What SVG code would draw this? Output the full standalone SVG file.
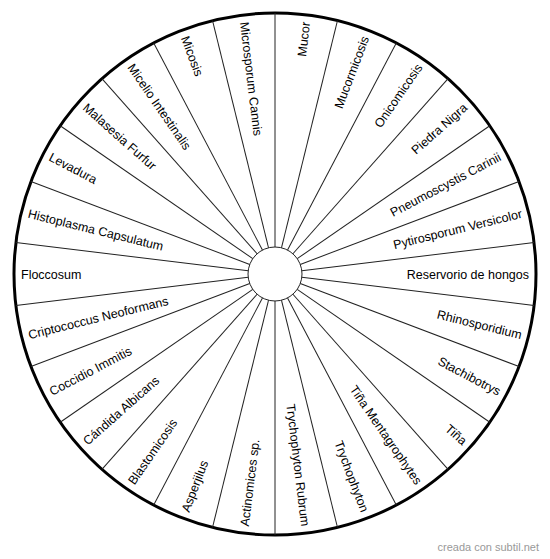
<svg xmlns="http://www.w3.org/2000/svg" width="550" height="559" viewBox="0 0 550 559">
<style>
.spoke{stroke:#222;stroke-width:1;fill:none}
.lbl{font-family:"Liberation Sans",Arial,sans-serif;font-size:12.5px;fill:#000}
.r{text-anchor:end}
.l{text-anchor:start}
.wm{font-family:"Liberation Sans",Arial,sans-serif;font-size:11px;fill:#999}
</style>
<rect width="550" height="559" fill="#fff"/>
<g id="wheel">
<circle cx="275" cy="274" r="261" fill="#fff" stroke="#000" stroke-width="3"/>
</g>
<g id="connectors">
<line class="spoke" x1="275" y1="247" x2="275" y2="13" transform="rotate(0 275 274)"/>
<line class="spoke" x1="275" y1="247" x2="275" y2="13" transform="rotate(13.846 275 274)"/>
<line class="spoke" x1="275" y1="247" x2="275" y2="13" transform="rotate(27.692 275 274)"/>
<line class="spoke" x1="275" y1="247" x2="275" y2="13" transform="rotate(41.538 275 274)"/>
<line class="spoke" x1="275" y1="247" x2="275" y2="13" transform="rotate(55.385 275 274)"/>
<line class="spoke" x1="275" y1="247" x2="275" y2="13" transform="rotate(69.231 275 274)"/>
<line class="spoke" x1="275" y1="247" x2="275" y2="13" transform="rotate(83.077 275 274)"/>
<line class="spoke" x1="275" y1="247" x2="275" y2="13" transform="rotate(96.923 275 274)"/>
<line class="spoke" x1="275" y1="247" x2="275" y2="13" transform="rotate(110.769 275 274)"/>
<line class="spoke" x1="275" y1="247" x2="275" y2="13" transform="rotate(124.615 275 274)"/>
<line class="spoke" x1="275" y1="247" x2="275" y2="13" transform="rotate(138.462 275 274)"/>
<line class="spoke" x1="275" y1="247" x2="275" y2="13" transform="rotate(152.308 275 274)"/>
<line class="spoke" x1="275" y1="247" x2="275" y2="13" transform="rotate(166.154 275 274)"/>
<line class="spoke" x1="275" y1="247" x2="275" y2="13" transform="rotate(180 275 274)"/>
<line class="spoke" x1="275" y1="247" x2="275" y2="13" transform="rotate(193.846 275 274)"/>
<line class="spoke" x1="275" y1="247" x2="275" y2="13" transform="rotate(207.692 275 274)"/>
<line class="spoke" x1="275" y1="247" x2="275" y2="13" transform="rotate(221.538 275 274)"/>
<line class="spoke" x1="275" y1="247" x2="275" y2="13" transform="rotate(235.385 275 274)"/>
<line class="spoke" x1="275" y1="247" x2="275" y2="13" transform="rotate(249.231 275 274)"/>
<line class="spoke" x1="275" y1="247" x2="275" y2="13" transform="rotate(263.077 275 274)"/>
<line class="spoke" x1="275" y1="247" x2="275" y2="13" transform="rotate(276.923 275 274)"/>
<line class="spoke" x1="275" y1="247" x2="275" y2="13" transform="rotate(290.769 275 274)"/>
<line class="spoke" x1="275" y1="247" x2="275" y2="13" transform="rotate(304.615 275 274)"/>
<line class="spoke" x1="275" y1="247" x2="275" y2="13" transform="rotate(318.462 275 274)"/>
<line class="spoke" x1="275" y1="247" x2="275" y2="13" transform="rotate(332.308 275 274)"/>
<line class="spoke" x1="275" y1="247" x2="275" y2="13" transform="rotate(346.154 275 274)"/>
</g>
<g id="hub">
<circle cx="275" cy="274" r="27" fill="#fff" stroke="#222" stroke-width="1"/>
</g>
<g id="n0"><text class="lbl r" x="529" y="274" dy="0.36em" transform="rotate(-83.077 275 274)">Mucor</text></g>
<g id="n1"><text class="lbl r" x="529" y="274" dy="0.36em" transform="rotate(-69.231 275 274)">Mucormicosis</text></g>
<g id="n2"><text class="lbl r" x="529" y="274" dy="0.36em" transform="rotate(-55.385 275 274)">Onicomicosis</text></g>
<g id="n3"><text class="lbl r" x="529" y="274" dy="0.36em" transform="rotate(-41.538 275 274)">Piedra Nigra</text></g>
<g id="n4"><text class="lbl r" x="529" y="274" dy="0.36em" transform="rotate(-27.692 275 274)">Pneumoscystis Carinii</text></g>
<g id="n5"><text class="lbl r" x="529" y="274" dy="0.36em" transform="rotate(-13.846 275 274)">Pytirosporum Versicolor</text></g>
<g id="n6"><text class="lbl r" x="529" y="274" dy="0.36em">Reservorio de hongos</text></g>
<g id="n7"><text class="lbl r" x="529" y="274" dy="0.36em" transform="rotate(13.846 275 274)">Rhinosporidium</text></g>
<g id="n8"><text class="lbl r" x="529" y="274" dy="0.36em" transform="rotate(27.692 275 274)">Stachibotrys</text></g>
<g id="n9"><text class="lbl r" x="529" y="274" dy="0.36em" transform="rotate(41.538 275 274)">Tiña</text></g>
<g id="n10"><text class="lbl r" x="529" y="274" dy="0.36em" transform="rotate(55.385 275 274)">Tiña Mentagrophytes</text></g>
<g id="n11"><text class="lbl r" x="529" y="274" dy="0.36em" transform="rotate(69.231 275 274)">Trychophyton</text></g>
<g id="n12"><text class="lbl r" x="529" y="274" dy="0.36em" transform="rotate(83.077 275 274)">Trychophyton Rubrum</text></g>
<g id="n13"><text class="lbl l" x="21" y="274" dy="0.36em" transform="rotate(-83.077 275 274)">Actinomices sp.</text></g>
<g id="n14"><text class="lbl l" x="21" y="274" dy="0.36em" transform="rotate(-69.231 275 274)">Asperjilus</text></g>
<g id="n15"><text class="lbl l" x="21" y="274" dy="0.36em" transform="rotate(-55.385 275 274)">Blastomicosis</text></g>
<g id="n16"><text class="lbl l" x="21" y="274" dy="0.36em" transform="rotate(-41.538 275 274)">Cándida Albicans</text></g>
<g id="n17"><text class="lbl l" x="21" y="274" dy="0.36em" transform="rotate(-27.692 275 274)">Coccidio Immitis</text></g>
<g id="n18"><text class="lbl l" x="21" y="274" dy="0.36em" transform="rotate(-13.846 275 274)">Criptococcus Neoformans</text></g>
<g id="n19"><text class="lbl l" x="21" y="274" dy="0.36em">Floccosum</text></g>
<g id="n20"><text class="lbl l" x="21" y="274" dy="0.36em" transform="rotate(13.846 275 274)">Histoplasma Capsulatum</text></g>
<g id="n21"><text class="lbl l" x="21" y="274" dy="0.36em" transform="rotate(27.692 275 274)">Levadura</text></g>
<g id="n22"><text class="lbl l" x="21" y="274" dy="0.36em" transform="rotate(41.538 275 274)">Malasesia Furfur</text></g>
<g id="n23"><text class="lbl l" x="21" y="274" dy="0.36em" transform="rotate(55.385 275 274)">Micelio Intestinalis</text></g>
<g id="n24"><text class="lbl l" x="21" y="274" dy="0.36em" transform="rotate(69.231 275 274)">Micosis</text></g>
<g id="n25"><text class="lbl l" x="21" y="274" dy="0.36em" transform="rotate(83.077 275 274)">Microsporum Cannis</text></g>
<text class="wm" x="539" y="551" text-anchor="end">creada con subtil.net</text>
</svg>
